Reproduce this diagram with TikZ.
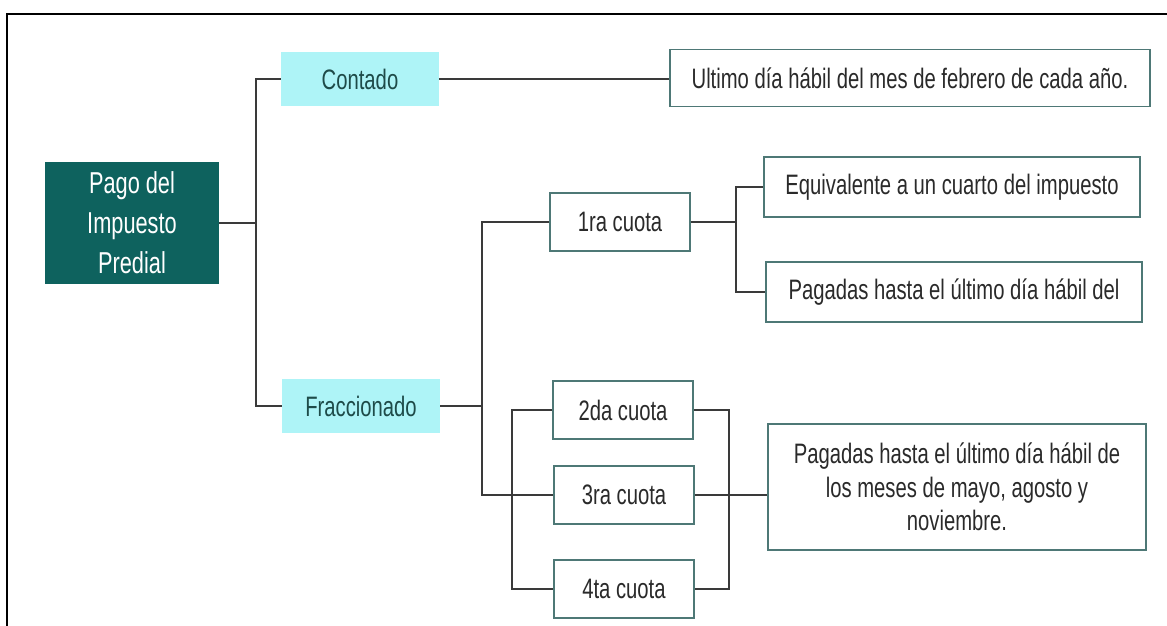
\documentclass[tikz,border=0pt]{standalone}
\usepackage{fontspec}
\setmainfont{Liberation Sans}[FakeStretch=0.72]
\definecolor{rootteal}{HTML}{0E625E}
\definecolor{lightcyan}{HTML}{AEF4F7}
\definecolor{cyantext}{HTML}{1E4B49}
\definecolor{boxedge}{HTML}{4E7876}
\definecolor{textgray}{HTML}{2A2A2A}
\definecolor{linegray}{HTML}{3A3A3A}
\begin{document}
\begin{tikzpicture}[x=0.025cm, y=-0.025cm,
    box/.style={draw=boxedge, line width=1.1pt, fill=white, text=textgray, align=center, inner sep=0pt, font=\fontsize{20}{24}\selectfont},
    topic/.style={fill=lightcyan, text=cyantext, inner sep=0pt, minimum width=3.95cm, minimum height=1.34cm, font=\fontsize{20}{24}\selectfont},
    cuota/.style={box, minimum width=3.5cm, minimum height=1.45cm},
    wire/.style={draw=linegray, line width=1.4pt}]
    \useasboundingbox (0, 0) rectangle (1167, 626);
    \draw[line width=1.8pt] (7, 626) -- (7, 14) -- (1167, 14);

    %Nodes
    \node[fill=rootteal, text=white, align=center, minimum width=4.35cm, minimum height=3.05cm, font=\fontsize{21.5}{28.5}\selectfont] at (132, 223) (pago) {Pago del\\Impuesto\\Predial};
    \node[topic] at (360, 79) (contado) {Contado};
    \node[topic] at (361, 406) (fracc) {Fraccionado};
    \node[box, minimum width=12cm, minimum height=1.43cm] at (910, 78) (ultimo) {Ultimo día hábil del mes de febrero de cada año.};

    \node[cuota] at (620, 222) (c1) {1ra cuota};
    \node[cuota] at (623, 410) (c2) {2da cuota};
    \node[cuota] at (624, 495) (c3) {3ra cuota};
    \node[cuota] at (624, 589) (c4) {4ta cuota};

    \node[box, minimum width=9.4cm, minimum height=1.5cm] at (952, 187) (equiv) {Equivalente a un cuarto del impuesto};
    \node[box, minimum width=9.4cm, minimum height=1.5cm] at (954, 292) (pag1) {Pagadas hasta el último día hábil del};
    \node[box, minimum width=9.45cm, minimum height=3.15cm] at (957, 487) (pag2) {Pagadas hasta el último día hábil de\\los meses de mayo, agosto y\\noviembre.};

    \coordinate (jpago) at (256, 223);
    \coordinate (jfracc) at (482, 406);
    \coordinate (jc1) at (736, 222);

    %Lines
    \draw[wire] (pago.east) -- (jpago);
    \draw[wire] (jpago) |- (contado.west);
    \draw[wire] (jpago) |- (fracc.west);
    \draw[wire] (contado.east) -- (contado.east -| ultimo.west);

    \draw[wire] (fracc.east) -- (jfracc);
    \draw[wire] (jfracc) |- (c1.west);
    \draw[wire] (jfracc) |- (c3.west);

    \draw[wire] (c1.east) -- (jc1);
    \draw[wire] (jc1) |- (equiv.west);
    \draw[wire] (jc1) |- (pag1.west);

    \draw[wire] (c2.west) -- ++(-40, 0) |- (c4.west);
    \draw[wire] (c2.east) -- ++(35, 0) |- (c4.east);
    \draw[wire] (c3.east) -- (c3.east -| pag2.west);

\end{tikzpicture}
\end{document}
